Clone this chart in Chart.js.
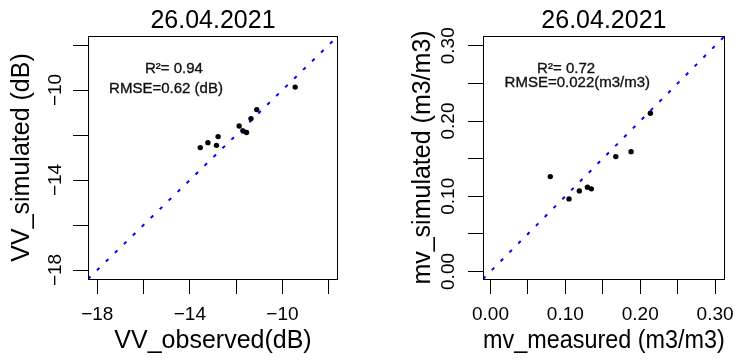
<!DOCTYPE html>
<html><head><meta charset="utf-8">
<script src="https://cdn.jsdelivr.net/npm/chart.js@4"></script>
<style>
html,body{margin:0;padding:0;background:#fff;width:743px;height:360px;overflow:hidden}
#c1{position:absolute;left:0;top:0}
#c2{position:absolute;left:400px;top:0}
</style></head><body>
<canvas id="c1" width="372" height="360"></canvas>
<canvas id="c2" width="343" height="360"></canvas>
<script>
// ---- data ----
const plotTitle = '26.04.2021';

// Left panel: VV backscatter
const vvObserved  = [-9.45, -11.11, -11.36, -11.87, -11.70, -11.55, -12.78, -12.85, -13.22, -13.55];
const vvSimulated = [-9.87, -10.87, -11.27, -11.60, -11.82, -11.89, -12.07, -12.46, -12.34, -12.56];
const vvLimits    = [-18.4, -7.6];
const vvTicks     = [-18, -16, -14, -12, -10, -8];
const vvLabelled  = [-18, -14, -10];
const vvStats     = ['R\u00b2= 0.94', 'RMSE=0.62 (dB)'];
const vvStatsAt   = [[-14.69, -9.04], [-15.03, -9.97]];

// Right panel: soil moisture
const mvMeasured  = [0.2136, 0.1878, 0.1674, 0.0799, 0.1049, 0.1187, 0.1295, 0.1347];
const mvSimulated = [0.2103, 0.1593, 0.1527, 0.1261, 0.0965, 0.1071, 0.1120, 0.1098];
const mvLimits    = [-0.01, 0.313];
const mvTicks     = [0.00, 0.05, 0.10, 0.15, 0.20, 0.25, 0.30];
const mvLabelled  = [0.00, 0.10, 0.20, 0.30];
const mvStats     = ['R\u00b2= 0.72', 'RMSE=0.022(m3/m3)'];
const mvStatsAt   = [[0.101, 0.269], [0.116, 0.2505]];

// ---- drawing ----
const FONT = 'Liberation Sans, Arial, Helvetica, sans-serif';
Chart.defaults.font.family = FONT;
Chart.defaults.color = '#000';

const boxPlugin = {
  id: 'box',
  afterDatasetsDraw(chart) {
    const a = chart.chartArea, ctx = chart.ctx;
    ctx.save();
    ctx.strokeStyle = '#000';
    ctx.lineWidth = 1;
    ctx.strokeRect(Math.round(a.left) + 0.5, Math.round(a.top) + 0.5,
                   Math.round(a.right - a.left) - 1, Math.round(a.bottom - a.top));
    ctx.restore();
  }
};
const headPlugin = {
  id: 'head',
  afterDraw(chart, args, opts) {
    const a = chart.chartArea, ctx = chart.ctx;
    ctx.save();
    ctx.font = '25px ' + FONT;
    ctx.fillStyle = '#000';
    ctx.textAlign = 'center';
    ctx.textBaseline = 'middle';
    ctx.fillText(opts.text, (a.left + a.right) / 2, a.top - 15);
    ctx.restore();
  }
};
const statsPlugin = {
  id: 'stats',
  afterDatasetsDraw(chart, args, opts) {
    const ctx = chart.ctx, xs = chart.scales.x, ys = chart.scales.y;
    ctx.save();
    ctx.font = '15px ' + FONT;
    ctx.fillStyle = '#111';
    ctx.strokeStyle = '#111';
    ctx.lineWidth = 0.35;
    ctx.textAlign = 'center';
    ctx.textBaseline = 'middle';
    opts.lines.forEach((t, i) => {
      const px = xs.getPixelForValue(opts.at[i][0]), py = ys.getPixelForValue(opts.at[i][1]);
      ctx.fillText(t, px, py);
      ctx.strokeText(t, px, py);
    });
    ctx.restore();
  }
};

function has(list, v) { return list.some(u => Math.abs(u - v) < 1e-9); }

function makeChart(id, cfg) {
  const pts = cfg.xs.map((x, i) => ({x: x, y: cfg.ys[i]}));
  const diag = cfg.lim.map(v => ({x: v, y: v}));
  const tickFont = {size: 19, family: FONT};
  const titleFont = {size: 25, family: FONT};
  const grid = {drawOnChartArea: false, drawTicks: true, tickLength: 15, color: '#000', tickColor: '#000', lineWidth: 1};
  return new Chart(document.getElementById(id), {
    data: {
      datasets: [
        {type: 'scatter', data: pts, pointRadius: 2.7, pointHoverRadius: 2.7,
         backgroundColor: '#000', borderColor: '#000', borderWidth: 0, pointStyle: 'circle'},
        {type: 'line', data: diag, borderColor: '#0000ff', borderWidth: 2, borderDash: [3.5, 9],
         pointRadius: 1.8, pointStyle: 'rect', pointBackgroundColor: '#0000ff', pointBorderWidth: 0, fill: false}
      ]
    },
    options: {
      responsive: false, animation: false, devicePixelRatio: 1,
      layout: {padding: {left: 0, right: cfg.padRight, top: 36, bottom: 0}},
      plugins: {
        legend: {display: false}, tooltip: {enabled: false}, title: {display: false},
        head: {text: plotTitle},
        stats: {lines: cfg.stats, at: cfg.statsAt}
      },
      scales: {
        x: {
          type: 'linear', position: 'bottom', min: cfg.lim[0], max: cfg.lim[1],
          afterBuildTicks: s => { s.ticks = cfg.ticks.map(v => ({value: v})); },
          afterFit: s => { s.height = 81; },
          ticks: {autoSkip: false, maxRotation: 0, minRotation: 0, font: tickFont, color: '#000', padding: 9,
                  callback: v => has(cfg.labelled, v) ? cfg.fmt(v) : ''},
          grid: grid, border: {display: false},
          title: {display: true, text: cfg.xTitle, font: titleFont, color: '#000', padding: {top: 0, bottom: 4}}
        },
        y: {
          type: 'linear', position: 'left', min: cfg.lim[0], max: cfg.lim[1],
          afterBuildTicks: s => { s.ticks = cfg.ticks.map(v => ({value: v})); },
          afterFit: s => { s.width = cfg.yWidth; },
          ticks: {autoSkip: false, minRotation: 90, maxRotation: 90, crossAlign: 'center', font: tickFont, color: '#000', padding: 1,
                  callback: v => has(cfg.labelled, v) ? cfg.fmt(v) : ''},
          grid: grid, border: {display: false},
          title: {display: true, text: cfg.yTitle, font: titleFont, color: '#000', padding: {top: cfg.yTitlePad, bottom: 0}}
        }
      }
    },
    plugins: [boxPlugin, headPlugin, statsPlugin]
  });
}

makeChart('c1', {
  xs: vvObserved, ys: vvSimulated, lim: vvLimits, ticks: vvTicks, labelled: vvLabelled,
  fmt: v => (v < 0 ? '\u2212' + Math.abs(v) : String(v)),
  stats: vvStats, statsAt: vvStatsAt,
  xTitle: 'VV_observed(dB)', yTitle: 'VV_simulated (dB)',
  yWidth: 88, padRight: 34, yTitlePad: 7
});
makeChart('c2', {
  xs: mvMeasured, ys: mvSimulated, lim: mvLimits, ticks: mvTicks, labelled: mvLabelled,
  fmt: v => v.toFixed(2),
  stats: mvStats, statsAt: mvStatsAt,
  xTitle: 'mv_measured (m3/m3)', yTitle: 'mv_simulated (m3/m3)',
  yWidth: 83, padRight: 11, yTitlePad: 8
});
</script>
</body></html>
